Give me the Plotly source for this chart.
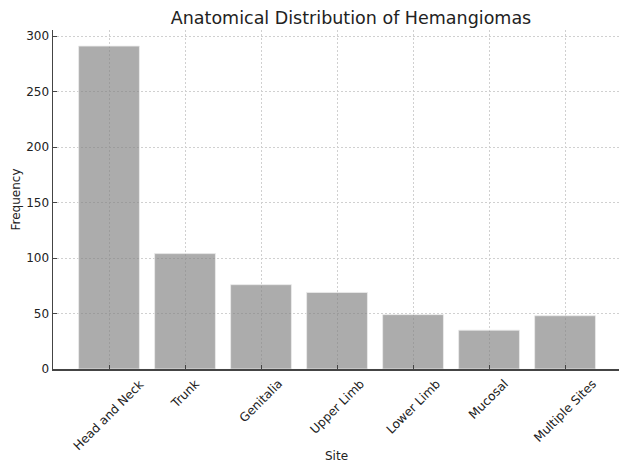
import plotly.graph_objects as go

sites = ["Head and Neck", "Trunk", "Genitalia", "Upper Limb", "Lower Limb", "Mucosal", "Multiple Sites"]
frequency = [291, 104, 76, 69, 49, 35, 48]
y_ticks = [0, 50, 100, 150, 200, 250, 300]

font = "DejaVu Sans"
x_pos = list(range(len(sites)))

fig = go.Figure(
    go.Bar(
        x=x_pos,
        y=frequency,
        width=0.8,
        marker=dict(color="rgba(128,128,128,0.65)", line=dict(color="rgba(235,235,235,0.8)", width=1)),
        hoverinfo="skip",
    )
)

# matplotlib-style rotated labels, centred under each tick
for xv, name in zip(x_pos, sites):
    fig.add_annotation(
        x=xv, xref="x", y=0, yref="paper",
        text=name, textangle=-45, showarrow=False,
        xanchor="center", yanchor="top", yshift=-5,
        font=dict(family=font, size=12.2, color="#222"),
    )

fig.add_annotation(
    x=0.5, xref="paper", y=-(456 - 369) / (466 - 30 - 97), yref="paper", text="Site", showarrow=False,
    xanchor="center", yanchor="middle", font=dict(family=font, size=12, color="#222"),
)

fig.update_layout(
    width=619,
    height=466,
    margin=dict(l=53, r=0, t=30, b=97),
    paper_bgcolor="white",
    plot_bgcolor="white",
    font=dict(family=font, size=12, color="#222"),
    title=dict(text="Anatomical Distribution of Hemangiomas", x=351 / 619, xanchor="center", y=1 - 18 / 466,
               yanchor="middle", font=dict(size=17.5, color="#222")),
    showlegend=False,
)

fig.update_xaxes(
    range=[-0.737, 6.71],
    tickmode="array",
    tickvals=x_pos,
    showticklabels=False,
    ticks="inside",
    ticklen=4,
    tickcolor="#444",
    showline=True,
    linecolor="#444",
    linewidth=1.5,
    showgrid=True,
    gridcolor="#d0d0d0",
    griddash="2px,2px",
    gridwidth=1,
    zeroline=False,
    automargin=False,
)

fig.update_yaxes(
    range=[0, 305.5],
    tickmode="array",
    tickvals=y_ticks,
    ticks="inside",
    ticklen=4,
    tickcolor="#444",
    showline=True,
    linecolor="#444",
    linewidth=1.5,
    showgrid=True,
    gridcolor="#d0d0d0",
    griddash="2px,2px",
    gridwidth=1,
    zeroline=False,
    automargin=False,
    title=dict(text="Frequency", font=dict(size=12), standoff=3),
    tickfont=dict(size=12),
)

fig.write_html(
    "out.html",
    config={"displayModeBar": False, "staticPlot": True},
    post_script="document.body.style.margin='0';document.body.style.padding='0';",
)
